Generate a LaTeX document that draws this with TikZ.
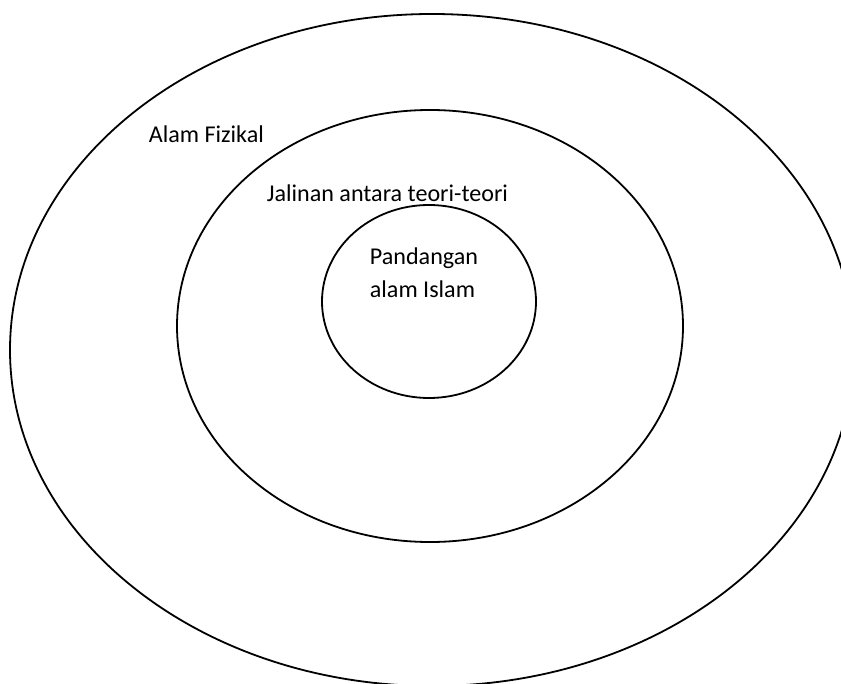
\documentclass[tikz,border=0pt]{standalone}
\usepackage{fontspec}
\setmainfont{Carlito}
\usetikzlibrary{positioning}

\begin{document}
\begin{tikzpicture}[x=1pt, y=-1pt, line width=1.8pt,
  lbl/.style={inner sep=0pt, anchor=base west, font=\fontsize{24.1}{33}\selectfont}]

\useasboundingbox (0,0) rectangle (841,684);

% lapisan luar
\coordinate (luar) at (432,350);
\draw (luar) ellipse [x radius=422, y radius=336];
\node[lbl] (fizikal) at (148,143) {Alam Fizikal};

% lapisan tengah
\coordinate (tengah) at (430,326);
\draw (tengah) ellipse [x radius=253, y radius=216];
\node[lbl] (jalinan) at (266,202) {Jalinan antara teori-teori};

% lapisan dalam
\coordinate (dalam) at (429,301.5);
\draw (dalam) ellipse [x radius=107, y radius=96.5];
\node[lbl] (pandangan) at (369,265) {Pandangan};
\node[lbl] (islam) at (369,298) {alam Islam};

\end{tikzpicture}
\end{document}
